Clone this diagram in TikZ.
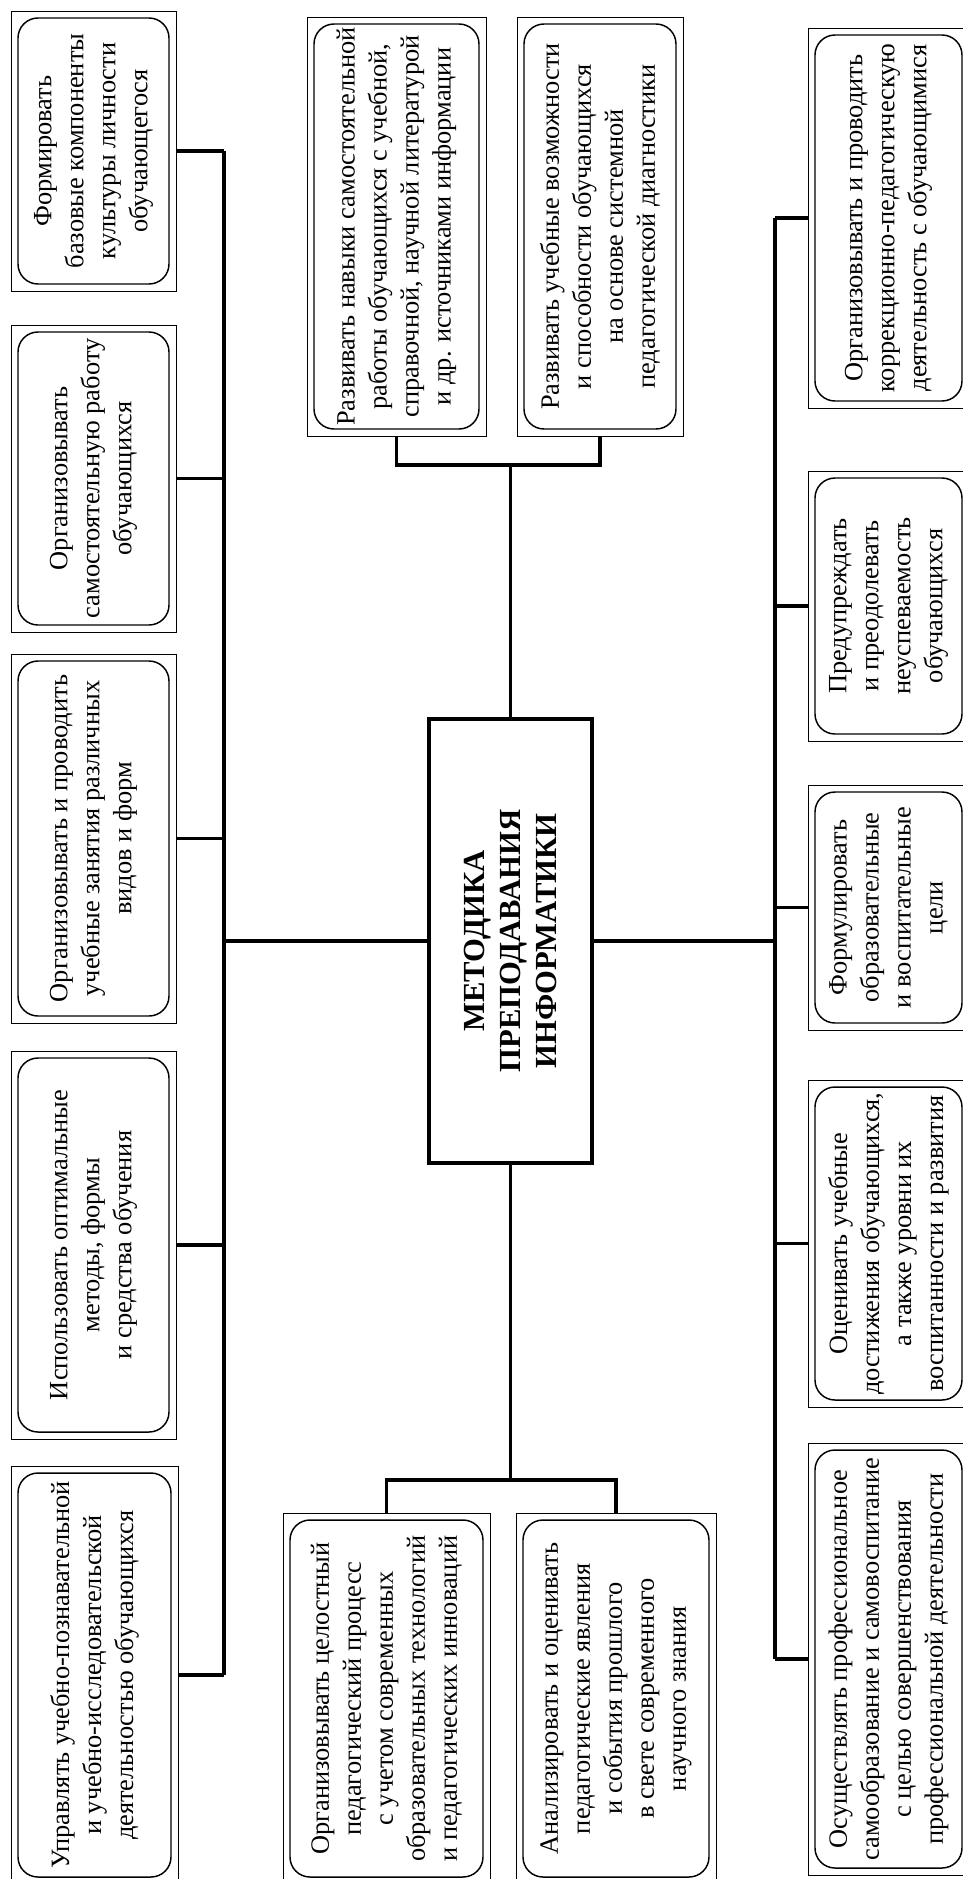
\documentclass[tikz,border=0pt]{standalone}
\usepackage{fontspec}
\setmainfont{Liberation Serif}
\usetikzlibrary{fit}

\begin{document}
\begin{tikzpicture}[x=0.75pt, y=-0.75pt,
	frame/.style={draw, line width=0.7pt, inner sep=0pt},
	task/.style 2 args={draw, line width=1.1pt, rounded corners=15pt, rotate=90, align=center,
	inner sep=0pt, minimum width=#1*0.75pt, minimum height=#2*0.75pt,
	font=\fontsize{19.8}{24}\selectfont},
	conn/.style={line width=2.3pt}]
\useasboundingbox (0,0) rectangle (963,1879);
% centre
\node[frame, line width=2.4pt, fit={(429,719) (592,1163)}] (core) {};
\node[rotate=90, align=center, font=\bfseries\fontsize{23}{27}\selectfont] (coret) at (core)
	{МЕТОДИКА\\ПРЕПОДАВАНИЯ\\ИНФОРМАТИКИ};
% left column
\node[frame, fit={(11,11) (176,291)}] (l1) {};
\node[task={266}{151}] (l1t) at (l1) {Формировать\\базовые компоненты\\культуры личности\\обучающегося};
\node[frame, fit={(11,325) (176,632)}] (l2) {};
\node[task={293}{151}] (l2t) at (l2) {Организовывать\\самостоятельную работу\\обучающихся};
\node[frame, fit={(11,654) (176,1023)}] (l3) {};
\node[task={355}{151}] (l3t) at (l3) {Организовывать и проводить\\учебные занятия различных\\видов и форм};
\node[frame, fit={(11,1051) (176,1439)}] (l4) {};
\node[task={374}{151}] (l4t) at (l4) {Использовать оптимальные\\методы, формы\\и средства обучения};
\node[frame, fit={(11,1466) (178,1884)}] (l5) {};
\node[task={404}{153}] (l5t) at (l5) {Управлять учебно-познавательной\\и учебно-исследовательской\\деятельностью обучающихся};
% top
\node[frame, fit={(307,17) (486,436)}] (a) {};
\node[task={405}{165}] (at) at (a) {Развивать навыки самостоятельной\\работы обучающихся с учебной,\\справочной, научной литературой\\и др. источниками информации};
\node[frame, fit={(517,17) (683,436)}] (b) {};
\node[task={405}{152}] (bt) at (b) {Развивать учебные возможности\\и способности обучающихся\\на основе системной\\педагогической диагностики};
% bottom
\node[frame, fit={(283,1513) (490,1884)}] (c) {};
\node[task={357}{193}] (ct) at (c) {Организовывать целостный\\педагогический процесс\\с учетом современных\\образовательных технологий\\и педагогических инноваций};
\node[frame, fit={(516,1513) (716,1884)}] (d) {};
\node[task={357}{186}] (dt) at (d) {Анализировать и оценивать\\педагогические явления\\и события прошлого\\в свете современного\\научного знания};
% right column
\node[frame, fit={(808,28) (969,408)}] (r1) {};
\node[task={366}{147}] (r1t) at (r1) {Организовывать и проводить\\коррекционно-педагогическую\\деятельность с обучающимися};
\node[frame, fit={(808,471) (969,741)}] (r2) {};
\node[task={256}{147}] (r2t) at (r2) {Предупреждать\\и преодолевать\\неуспеваемость\\обучающихся};
\node[frame, fit={(808,785) (969,1030)}] (r3) {};
\node[task={231}{147}] (r3t) at (r3) {Формулировать\\образовательные\\и воспитательные\\цели};
\node[frame, fit={(808,1080) (969,1407)}] (r4) {};
\node[task={313}{147}] (r4t) at (r4) {Оценивать учебные\\достижения обучающихся,\\а также уровни их\\воспитанности и развития};
\node[frame, fit={(808,1443) (969,1875)}] (r5) {};
\node[task={418}{147}] (r5t) at (r5) {Осуществлять профессиональное\\самообразование и самовоспитание\\с целью совершенствования\\профессиональной деятельности};

\coordinate (lbus) at (224,0);
\coordinate (rbus) at (775,0);
\coordinate (tj) at (core.north |- 0,465);
\coordinate (bj) at (core.south |- 0,1480);
% buses
\draw[conn] (l1.east -| lbus) -- (l5.east -| lbus);
\draw[conn] (r1.west -| rbus) -- (r5.west -| rbus);
\foreach \n in {l1,l2,l3,l4,l5}
	\draw[conn] (\n.east) -- (\n.east -| lbus);
\foreach \n in {r1,r2,r3,r4,r5}
	\draw[conn] (\n.west) -- (\n.west -| rbus);
\draw[conn] (core.west) -- (core.west -| lbus);
\draw[conn] (core.east) -- (core.east -| rbus);
\draw[conn] (a.south) |- (tj) -| (b.south);
\draw[conn] (tj) -- (core.north);
\draw[conn] (c.north) |- (bj) -| (d.north);
\draw[conn] (bj) -- (core.south);
\end{tikzpicture}
\end{document}
